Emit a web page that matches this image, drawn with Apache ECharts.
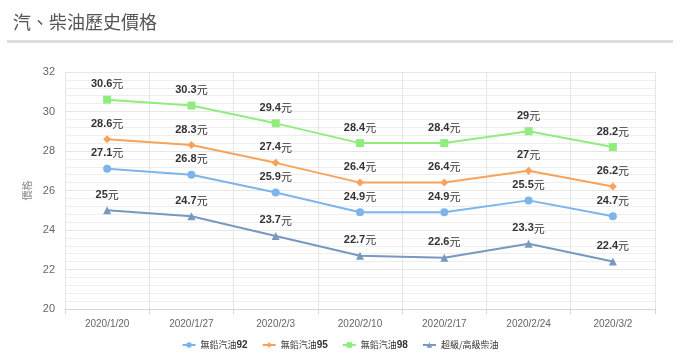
<!DOCTYPE html>
<html><head><meta charset="utf-8">
<script src="https://cdn.jsdelivr.net/npm/echarts@6/dist/echarts.min.js"></script>
<style>html,body{margin:0;padding:0;background:#fff;}#c{width:680px;height:361px;}</style>
</head><body><div id="c"></div>
<script>
const categories = ['2020/1/20','2020/1/27','2020/2/3','2020/2/10','2020/2/17','2020/2/24','2020/3/2'];
const gas92 = [27.1, 26.8, 25.9, 24.9, 24.9, 25.5, 24.7];
const gas95 = [28.6, 28.3, 27.4, 26.4, 26.4, 27, 26.2];
const gas98 = [30.6, 30.3, 29.4, 28.4, 28.4, 29, 28.2];
const diesel = [25, 24.7, 23.7, 22.7, 22.6, 23.3, 22.4];
const seriesNames = ['無鉛汽油92','無鉛汽油95','無鉛汽油98','超級/高級柴油'];

const chart = echarts.init(document.getElementById('c'), null, {renderer:'canvas'});
function mk(name, data, color, symbol, size){
  return {
    name, type:'line', data, symbol, symbolSize:size,
    lineStyle:{color, width:2}, itemStyle:{color},
    label:{show:true, position:'top', distance:6,
      formatter: p => '{b|' + p.value + '}{n|元}',
      rich:{b:{fontWeight:'bold', fontSize:11, color:'#333', fontFamily:'Arial, Liberation Sans, sans-serif'},
            n:{fontSize:11, color:'#333', fontFamily:'Noto Sans CJK TC, sans-serif'}}},
    emphasis:{disabled:true}, animation:false
  };
}
chart.setOption({
  animation:false,
  title:{text:'汽、柴油歷史價格', left:8, top:8,
    textStyle:{fontSize:18, fontWeight:'normal', color:'#555', fontFamily:'Noto Sans CJK TC, sans-serif'}},
  graphic:[{type:'rect', shape:{x:7, y:40, width:666, height:3}, style:{fill:'#dcdcdc'}, silent:true}],
  grid:{left:65, right:25, top:72, bottom:52},
  legend:{bottom:6, left:'center', itemGap:14, itemWidth:13, itemHeight:7,
    formatter: n => { const m = n.match(/^(.*?)(\d+)$/); return m ? '{c|' + m[1] + '}{d|' + m[2] + '}' : '{c|' + n + '}'; },
    textStyle:{fontSize:9, color:'#333',
      rich:{c:{fontSize:9, color:'#333', fontFamily:'Noto Sans CJK TC, sans-serif'},
            d:{fontSize:10, color:'#333', fontWeight:'bold', fontFamily:'Arial, Liberation Sans, sans-serif'}}},
    data:seriesNames},
  xAxis:{type:'category', data:categories, boundaryGap:true,
    axisLine:{lineStyle:{color:'#ccd6eb'}}, axisTick:{show:true, lineStyle:{color:'#ccd6eb'}},
    axisLabel:{color:'#666', fontSize:10, margin:10, fontFamily:'Arial, Liberation Sans, sans-serif'},
    splitLine:{show:true, lineStyle:{color:'#e6e6e6'}}},
  yAxis:{type:'value', min:20, max:32, interval:2, name:'價格', nameLocation:'middle', nameGap:13,
    nameTextStyle:{color:'#888', fontSize:10, fontFamily:'Noto Sans CJK TC, sans-serif'},
    axisLine:{show:false}, axisTick:{show:false},
    axisLabel:{color:'#666', fontSize:11, margin:10, fontFamily:'Arial, Liberation Sans, sans-serif'},
    splitLine:{show:true, lineStyle:{color:'#e6e6e6'}},
    minorTick:{show:false, splitNumber:5},
    minorSplitLine:{show:true, lineStyle:{color:'#eeeeee'}}},
  series:[
    mk(seriesNames[0], gas92, '#7cb5ec', 'circle', 8),
    mk(seriesNames[1], gas95, '#f7a35c', 'diamond', 8),
    mk(seriesNames[2], gas98, '#90ed7d', 'rect', 8),
    mk(seriesNames[3], diesel, '#7798bf', 'triangle', 8)
  ]
});
</script></body></html>
